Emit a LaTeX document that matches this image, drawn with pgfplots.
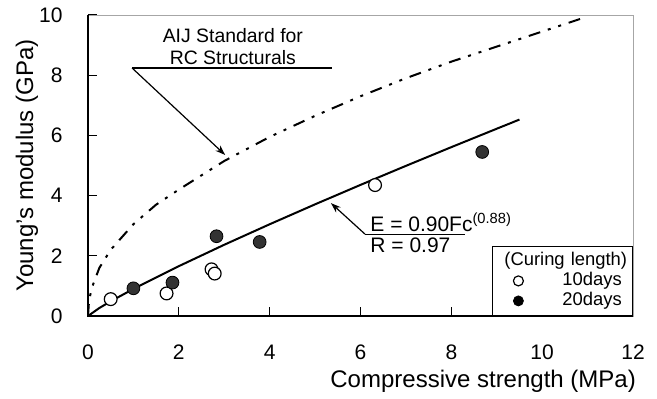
\documentclass[border=0pt]{standalone}
\usepackage{fontspec}
\setmainfont{Liberation Sans}
\usepackage{pgfplots}
\pgfplotsset{compat=1.18}
\usetikzlibrary{arrows.meta}
\definecolor{dotgray}{HTML}{333333}
\begin{document}
\begin{tikzpicture}
\begin{axis}[
  width=272.5pt, height=150.5pt, scale only axis,
  xmin=0, xmax=12, ymin=0, ymax=10,
  xtick={0,2,4,6,8,10,12}, ytick={0,2,4,6,8,10},
  axis line style={draw=gray!70, line width=0.5pt},
  tick align=inside, xtick pos=bottom, ytick pos=left,
  major tick length=4.5pt,
  tick style={black, line width=0.6pt},
  /pgf/number format/assume math mode=true,
  ticklabel style={font=\fontsize{10.5}{12}\selectfont},
  xticklabel style={anchor=center, yshift=-18pt},
  yticklabel style={anchor=east, inner sep=0pt, xshift=-12.5pt},
  xlabel={Compressive strength (MPa)},
  ylabel={Young's modulus (GPa)},
  label style={font=\fontsize{12}{14}\selectfont},
  xlabel style={at={(axis description cs:0.725,-0.216)}, anchor=center},
  ylabel style={at={(axis description cs:-0.112,0.5)}, anchor=center, rotate=0},
  legend style={at={(rel axis cs:1,0)}, anchor=south east, draw=black, line width=0.6pt,
    font=\fontsize{9.2}{10}\selectfont, cells={anchor=west},
    row sep=2.5pt, column sep=4pt, inner xsep=0pt, inner ysep=3.5pt,
    nodes={inner sep=0pt, text width=35pt, text height=6pt, text depth=1.5pt}},
  clip=false,
]
\addlegendimage{empty legend}
\addlegendentry{\hspace*{-29pt}(Curing length)}
\addlegendimage{legend image code/.code={\path[draw=none] (0pt,-1pt) rectangle (31pt,1pt);
   \path[draw=black, line width=0.6pt, mark options={fill=white, draw=black}] plot[mark=*, mark size=2.5pt] coordinates {(13pt,0pt)};}}
\addlegendentry{10days}
\addlegendimage{legend image code/.code={\path[draw=none] (0pt,-1pt) rectangle (31pt,1pt);
   \path[draw=black, line width=0.4pt, mark options={fill=black, draw=black}] plot[mark=*, mark size=2.5pt] coordinates {(13pt,0pt)};}}
\addlegendentry{20days}

% AIJ standard curve
\addplot[forget plot, black, line width=1pt, dash pattern=on 6pt off 4pt on 1.5pt off 4pt on 1.5pt off 4pt]
  coordinates {(0,0) (0.02,0.45) (0.05,0.7) (0.1,1.0) (0.25,1.6) (0.5,2.2) (1,3.05) (1.5,3.7) (2,4.2)
  (3,5.15) (4,5.95) (5,6.65) (6,7.3) (7,7.9) (8,8.45) (9,8.95) (10,9.45) (10.9,9.9)};
% regression line
\addplot[forget plot, black, line width=1pt]
  coordinates {(0,0) (0.25,0.266) (0.5,0.489) (1,0.90) (2,1.656) (3,2.367) (4,3.048) (5,3.710)
  (6,4.356) (7,4.988) (8,5.610) (9,6.222) (9.5,6.526)};
% 10 days
\addplot[forget plot, only marks, mark=*, mark size=3.2pt, mark options={fill=white, draw=black, line width=0.6pt}]
  coordinates {(0.50,0.56) (1.73,0.75) (2.72,1.55) (2.79,1.41) (6.32,4.35)};
% 20 days
\addplot[forget plot, only marks, mark=*, mark size=3.2pt, mark options={fill=dotgray, draw=black, line width=0.4pt}]
  coordinates {(1.00,0.92) (1.86,1.11) (2.83,2.65) (3.78,2.46) (8.68,5.45)};

% frame left/bottom
\draw[black, line width=1pt] (rel axis cs:0,1) -- (rel axis cs:0,0) -- (rel axis cs:1,0);

% annotations
\node[font=\fontsize{9.7}{11}\selectfont, align=center] at (axis cs:3.19,8.95) {AIJ Standard for\\[0pt]RC Structurals};
\draw[line width=0.6pt] (axis cs:5.37,8.24) -- (axis cs:0.97,8.24);
\draw[line width=0.6pt, -{Stealth[length=5pt,width=3.5pt]}] (axis cs:0.97,8.24) -- (axis cs:3.02,5.35);

\node[font=\fontsize{10.5}{12}\selectfont, anchor=west, inner sep=0pt] at (axis cs:6.21,3.12) {E = 0.90Fc\textsuperscript{(0.88)}};
\node[font=\fontsize{10.5}{12}\selectfont, anchor=west, inner sep=0pt] at (axis cs:6.21,2.36) {R = 0.97};
\draw[line width=0.6pt] (axis cs:8.30,2.72) -- (axis cs:6.10,2.72);
\draw[line width=0.6pt, -{Stealth[length=5pt,width=3.5pt]}] (axis cs:6.10,2.72) -- (axis cs:5.35,3.75);
\end{axis}
\path (-44pt,-40pt) rectangle (284.5pt,158pt);
\end{tikzpicture}
\end{document}
